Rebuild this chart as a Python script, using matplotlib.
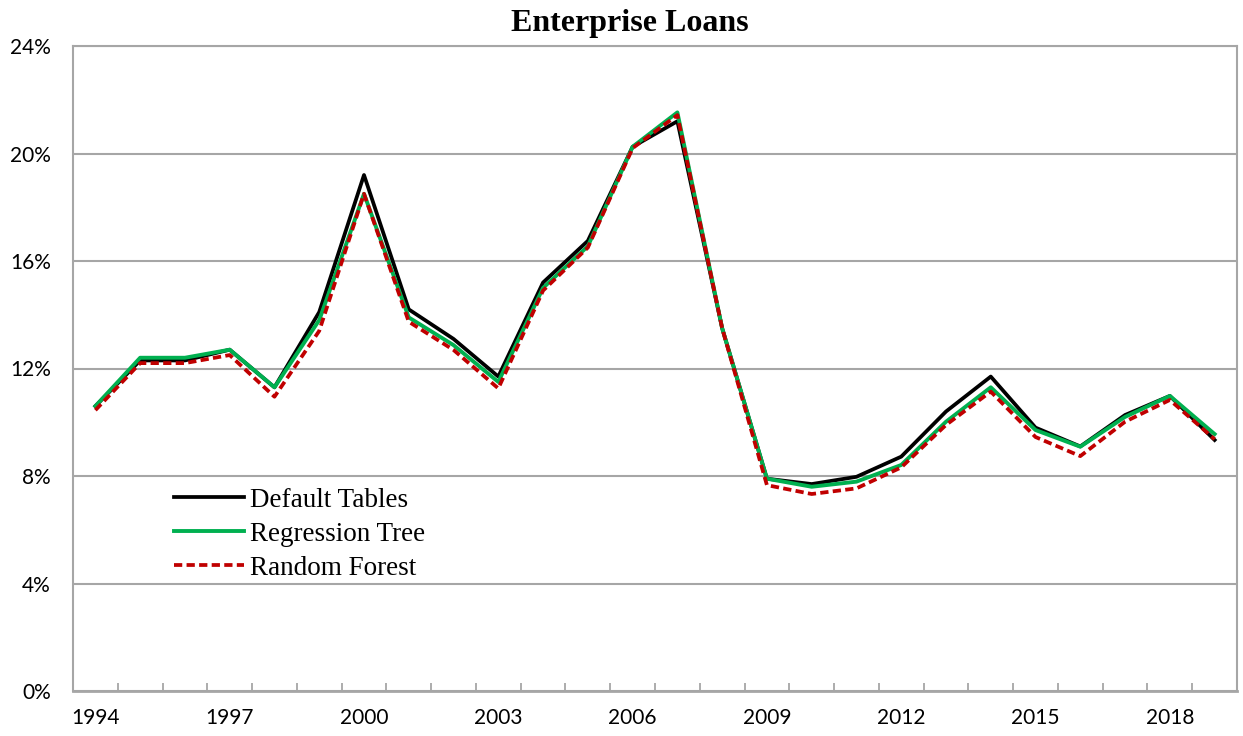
import numpy as np
import matplotlib
matplotlib.use("Agg")
import matplotlib.pyplot as plt
from matplotlib.ticker import FixedLocator, FuncFormatter

# ── data (percent) ───────────────────────────────────────────────────────────────
years = list(range(1994, 2020))
default_tables = [10.6, 12.3, 12.3, 12.7, 11.3, 14.1, 19.2, 14.2, 13.1, 11.7, 15.2, 16.75, 20.25,
                  21.2, 13.5, 7.9, 7.7, 7.97, 8.72, 10.4, 11.7, 9.8, 9.1, 10.27, 10.98, 9.34]
regression_tree = [10.6, 12.4, 12.4, 12.7, 11.3, 13.8, 18.5, 13.9, 12.87, 11.5, 15.0, 16.55, 20.25,
                   21.53, 13.5, 7.9, 7.6, 7.79, 8.41, 10.02, 11.3, 9.71, 9.09, 10.2, 10.98, 9.56]
random_forest = [10.45, 12.2, 12.2, 12.5, 10.95, 13.4, 18.5, 13.74, 12.69, 11.26, 14.9, 16.5, 20.2,
                 21.43, 13.5, 7.66, 7.33, 7.54, 8.32, 9.9, 11.14, 9.45, 8.74, 10.02, 10.83, 9.37]
yticks = [0, 4, 8, 12, 16, 20, 24]

GRID = "#a6a6a6"
x = np.arange(len(years))

fig = plt.figure(figsize=(12.43, 7.36), dpi=100)
ax = fig.add_axes([73 / 1243, 1 - 691 / 736, 1164 / 1243, 645 / 736])

ax.plot(x, default_tables, color="black", lw=2.7, label="Default Tables", zorder=3)
ax.plot(x, regression_tree, color="#00b050", lw=2.8, label="Regression Tree", zorder=4)
ax.plot(x, random_forest, color="#c00000", lw=2.7, ls=(0, (2.2, 1.15)), label="Random Forest", zorder=5)

ax.set_xlim(-0.5, len(years) - 0.5)
ax.set_ylim(0, 24)
ax.yaxis.set_major_locator(FixedLocator(yticks))
ax.yaxis.set_major_formatter(FuncFormatter(lambda v, _: f"{v:.0f}%"))
ax.grid(axis="y", color=GRID, lw=1.5, zorder=0)
ax.set_axisbelow(True)

ax.set_xticks(x[::3])
ax.set_xticklabels([str(y) for y in years[::3]])
ax.set_xticks(x[:-1] + 0.5, minor=True)
ax.tick_params(axis="x", which="major", length=0, pad=12)
ax.tick_params(axis="x", which="minor", direction="in", length=5.5, width=1.3, color=GRID)
ax.tick_params(axis="y", length=0, pad=16)
for lab in ax.get_xticklabels() + ax.get_yticklabels():
    lab.set_fontfamily("Lato")
    lab.set_fontsize(15)

for sp in ax.spines.values():
    sp.set_color(GRID)
    sp.set_linewidth(1.5)
ax.spines["bottom"].set_linewidth(2)

fig.text(630 / 1243, 1 - 24 / 736, "Enterprise Loans", fontfamily="Liberation Serif",
         fontweight="bold", fontsize=23, ha="center", va="center")

ax.legend(loc="upper left", bbox_to_anchor=(0.0773, 0.332), frameon=False,
          prop={"family": "Liberation Serif", "size": 19.5}, handlelength=2.6, handletextpad=0.22,
          labelspacing=0.33, borderaxespad=0)

fig.savefig("out.png", dpi=100)
